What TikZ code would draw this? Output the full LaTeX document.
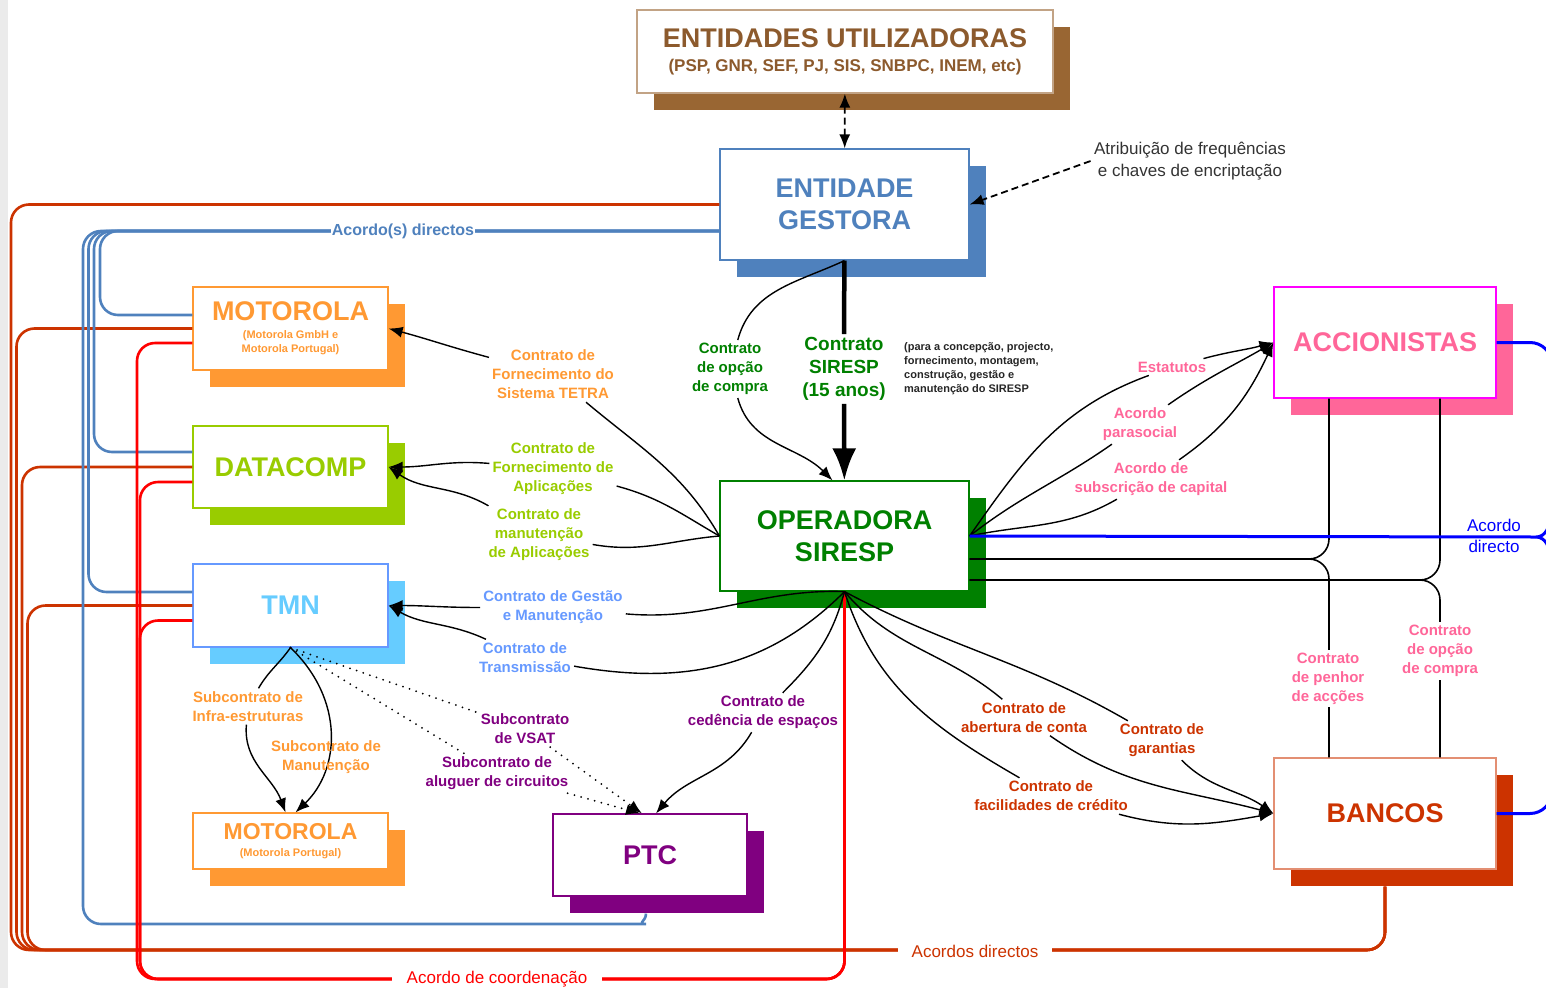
\documentclass[tikz,border=0pt]{standalone}
\usepackage{fontspec}
\setmainfont{Liberation Sans}
\usepackage{tikz}
\usetikzlibrary{arrows.meta,shadows}

\definecolor{brn}{RGB}{153,102,51}
\definecolor{brntxt}{RGB}{140,90,45}
\definecolor{gblue}{RGB}{79,129,189}
\definecolor{morange}{RGB}{255,153,51}
\definecolor{dgreen}{RGB}{153,204,0}
\definecolor{tsky}{RGB}{102,204,255}
\definecolor{tblue}{RGB}{102,153,255}
\definecolor{ppurple}{RGB}{128,0,128}
\definecolor{ogreen}{RGB}{0,128,0}
\definecolor{apink}{RGB}{255,102,153}
\definecolor{amag}{RGB}{255,0,255}
\definecolor{bred}{RGB}{204,51,0}

\begin{document}
\begin{tikzpicture}[x=1pt, y=1pt,
  sbox/.style={fill=white, line width=1.2pt, inner sep=0pt, align=center,
    general shadow={fill=#1, shadow xshift=17pt, shadow yshift=-17pt}},
  ttl/.style={font=\fontsize{27}{32}\selectfont\bfseries},
  lbl/.style={font=\fontsize{15}{19}\selectfont\bfseries, align=center, inner sep=3pt},
  arr/.style={line width=1.4pt, -{Latex[length=14pt,width=11pt]}},
  dotarr/.style={line width=2pt, line cap=round, dash pattern=on 0pt off 7pt, -{Latex[length=14pt,width=11pt]}},
  dasharr/.style={line width=1.8pt, dash pattern=on 7pt off 4pt},
  blk/.style={line width=1.6pt, rounded corners=20pt},
  acd/.style={draw=bred, line width=2.6pt, rounded corners=18pt},
  adb/.style={draw=gblue, line width=2.6pt, rounded corners=18pt},
  aco/.style={draw=red, line width=2.6pt, rounded corners=18pt},
  bdir/.style={draw=blue, line width=3pt}]

  \useasboundingbox (0,0) rectangle (1546,-988);
  \fill[black!8] (0,0) rectangle (8,-988);

  \node[sbox=brn, draw=brn!60, text=brntxt, minimum width=416pt, minimum height=83pt, font=\fontsize{17}{24}\selectfont\bfseries] (eu) at (845,-51.5)
    {{\fontsize{27}{32}\selectfont ENTIDADES UTILIZADORAS}\\(PSP, GNR, SEF, PJ, SIS, SNBPC, INEM, etc)};
  \node[sbox=gblue, draw=gblue, text=gblue, minimum width=249pt, minimum height=111pt, ttl] (eg) at (844.5,-204.5) {ENTIDADE\\GESTORA};
  \node[sbox=ogreen, draw=ogreen, text=ogreen, minimum width=249pt, minimum height=110pt, ttl] (op) at (844.5,-536) {OPERADORA\\SIRESP};
  \node[sbox=morange, draw=morange, text=morange, minimum width=195pt, minimum height=83pt, font=\fontsize{11}{14}\selectfont\bfseries] (mot) at (290.5,-328.5)
    {{\fontsize{27}{32}\selectfont MOTOROLA}\\[4pt](Motorola GmbH e\\Motorola Portugal)};
  \node[sbox=dgreen, draw=dgreen, text=dgreen, minimum width=195pt, minimum height=82pt, ttl] (dat) at (290.5,-467) {DATACOMP};
  \node[sbox=tsky, draw=tblue, text=tsky, minimum width=195pt, minimum height=83pt, ttl] (tmn) at (290.5,-605.5) {TMN};
  \node[sbox=morange, draw=morange, text=morange, minimum width=195pt, minimum height=56pt, font=\fontsize{11}{14}\selectfont\bfseries] (motb) at (290.5,-841)
    {{\fontsize{23}{28}\selectfont MOTOROLA}\\[3pt](Motorola Portugal)};
  \node[sbox=ppurple, draw=ppurple, text=ppurple, minimum width=194pt, minimum height=82pt, ttl] (ptc) at (650,-855) {PTC};
  \node[sbox=apink, draw=amag, text=apink, minimum width=222pt, minimum height=111pt, ttl] (acc) at (1385,-342.5) {ACCIONISTAS};
  \node[sbox=bred, draw=bred!55, text=bred, minimum width=222pt, minimum height=111pt, ttl] (ban) at (1385,-813.5) {BANCOS};

  \node[align=center, font=\fontsize{17}{22}\selectfont, text=black!80] (atr) at (1190,-161) {Atribuição de frequências\\e chaves de encriptação};
  \node[lbl, text=ogreen, font=\fontsize{19}{23}\selectfont\bfseries] (sir) at (844,-369) {Contrato\\SIRESP\\(15 anos)};
  \node[lbl, text=ogreen] (opc) at (730,-369) {Contrato\\de opção\\de compra};
  \node[anchor=west, align=left, inner sep=0pt, font=\fontsize{11}{14}\selectfont\bfseries, text=black!85] (note) at (904,-369)
    {(para a concepção, projecto,\\fornecimento, montagem,\\construção, gestão e\\manutenção do SIRESP};
  \node[lbl, text=morange] (tetra) at (553,-374.5) {Contrato de\\Fornecimento do\\Sistema TETRA};
  \node[lbl, text=dgreen] (fapl) at (553,-469) {Contrato de\\Fornecimento de\\Aplicações};
  \node[lbl, text=dgreen] (mapl) at (539,-535) {Contrato de\\manutenção\\de Aplicações};
  \node[lbl, text=tblue] (gest) at (553,-607.5) {Contrato de Gestão\\e Manutenção};
  \node[lbl, text=tblue] (trans) at (525,-657.5) {Contrato de\\Transmissão};
  \node[lbl, text=ppurple] (ced) at (763,-712.5) {Contrato de\\cedência de espaços};
  \node[lbl, text=ppurple] (vsat) at (525,-729) {Subcontrato\\de VSAT};
  \node[lbl, text=ppurple] (alug) at (497,-773.5) {Subcontrato de\\aluguer de circuitos};
  \node[lbl, text=morange] (infra) at (248,-706.5) {Subcontrato de\\Infra-estruturas};
  \node[lbl, text=apink] (estat) at (1172,-367) {Estatutos};
  \node[lbl, text=apink] (paras) at (1140,-424.5) {Acordo\\parasocial};
  \node[lbl, text=apink] (subsc) at (1151,-479.5) {Acordo de\\subscrição de capital};
  \node[lbl, text=bred] (abert) at (1024,-717.5) {Contrato de\\abertura de conta};
  \node[lbl, text=bred] (garant) at (1162,-740.5) {Contrato de\\garantias};
  \node[lbl, text=bred] (facil) at (1051,-796) {Contrato de\\facilidades de crédito};

  \coordinate (bx) at (1536,-537);

  \draw[acd] (eg.west) -| (11,-950) -| ([yshift=-17pt]ban.south);
  \draw[acd] (mot.west) -| (16.5,-950) -| ([yshift=-17pt]ban.south);
  \draw[acd] (dat.west) -| (22,-950) -| ([yshift=-17pt]ban.south);
  \draw[acd] (tmn.west) -| (27.5,-950) -| ([yshift=-17pt]ban.south);

  \draw[adb] ([yshift=-26.5pt]eg.west) -| (100,-315) -- ([yshift=13.5pt]mot.west);
  \draw[adb] ([yshift=-26.5pt]eg.west) -| (94,-452) -- ([yshift=15pt]dat.west);
  \draw[adb] ([yshift=-26.5pt]eg.west) -| (88.5,-592) -- ([yshift=13.5pt]tmn.west);
  \draw[adb] ([yshift=-26.5pt]eg.west) -| (83,-924) -- (628,-924) to[out=0,in=-90] ([xshift=-4pt,yshift=-17pt]ptc.south);

  \draw[aco] (op.south) |- (137,-979) |- ([yshift=-14.5pt]mot.west);
  \draw[aco] (op.south) |- (140,-979) |- ([yshift=-15pt]dat.west);
  \draw[aco] (op.south) |- (140,-979) |- ([yshift=-15pt]tmn.west);

  \draw[dasharr, {Latex[length=14pt,width=11pt]}-{Latex[length=14pt,width=11pt]}] (eu) -- (eg);
  \draw[dasharr, -{Latex[length=14pt,width=11pt]}] (atr.west) -- (eg.east);
  \draw[line width=4.5pt, -{Latex[length=32pt,width=24pt]}] (eg) -- (sir) -- (op);
  \draw[arr] (eg.south) to[out=205,in=75] (opc) to[out=-75,in=135] ([xshift=-12pt]op.north);

  \draw[arr] (op.west) to[out=120,in=-40] (tetra) to[out=165,in=-15] (mot.east);
  \draw[arr] (op.west) to[out=150,in=-15] (fapl) to[out=175,in=0] (dat.east);
  \draw[arr] (op.west) to[out=185,in=-10] (mapl) to[out=150,in=-35] (dat.east);
  \draw[arr] (op.south) to[out=178,in=-5] (gest) to[out=180,in=0] (tmn.east);
  \draw[arr] (op.south) to[out=-135,in=-10] (trans) to[out=155,in=-30] (tmn.east);
  \draw[arr] (op.south) to[out=-105,in=45] (ced) to[out=-120,in=50] ([xshift=6pt]ptc.north);

  \draw[dotarr] (tmn.south) -- (vsat) -- ([xshift=-8pt]ptc.north);
  \draw[dotarr] (tmn.south) -- (alug) -- ([xshift=-10pt]ptc.north);
  \draw[arr] (tmn.south) to[out=-125,in=60] (infra) to[out=-95,in=110] ([xshift=-5pt]motb.north);
  \draw[arr] (tmn.south) .. controls (345,-700) and (340,-770) .. ([xshift=5pt]motb.north);
  \node[lbl, text=morange] (smanut) at (326,-757) {Subcontrato de\\Manutenção};

  \draw[arr] (op.east) to[out=55,in=-160] (estat) to[out=15,in=195] (acc.west);
  \draw[arr] (op.east) to[out=38,in=-145] (paras) to[out=35,in=-150] (acc.west);
  \draw[arr] (op.east) to[out=12,in=-150] (subsc) to[out=35,in=-115] (acc.west);

  \draw[arr] (op.south) to[out=-50,in=140] (abert) to[out=-35,in=165] (ban.west);
  \draw[arr] (op.south) to[out=-28,in=150] (garant) to[out=-45,in=145] (ban.west);
  \draw[arr] (op.south) to[out=-72,in=150] (facil) to[out=-15,in=190] (ban.west);

  \draw[blk] ([xshift=-56pt]acc.south) |- ([yshift=-23pt]op.east);
  \draw[blk] ([yshift=-23pt]op.east) -| ([xshift=-56pt]ban.north);
  \draw[blk] ([xshift=55pt]acc.south) |- ([yshift=-44pt]op.east);
  \draw[blk] ([yshift=-44pt]op.east) -| ([xshift=55pt]ban.north);

  \draw[bdir] (op.east) -- (bx);
  \draw[bdir] (bx) to[out=0,in=-90] ++(14,20) (bx) to[out=0,in=90] ++(14,-20);
  \draw[bdir, rounded corners=22pt] (acc.east) -| (1552,-380);
  \draw[bdir, rounded corners=22pt] (ban.east) -| (1552,-775);

  \node[align=center, font=\fontsize{17}{21}\selectfont, text=blue] (adir) at (1494,-536) {Acordo\\directo};
  \node[lbl, fill=white, text=apink] (penhor) at (1328,-678.5) {Contrato\\de penhor\\de acções};
  \node[lbl, fill=white, text=apink] (opcb) at (1440,-651) {Contrato\\de opção\\de compra};
  \node[fill=white, text=gblue, font=\fontsize{16}{19}\selectfont\bfseries, inner sep=1pt] (adl) at (403,-231) {Acordo(s) directos};
  \node[fill=white, text=bred, font=\fontsize{17}{20}\selectfont, inner xsep=14pt] (adsl) at (975,-951) {Acordos directos};
  \node[fill=white, text=red, font=\fontsize{17}{20}\selectfont, inner xsep=15pt] (acl) at (497,-979) {Acordo de coordenação};
\end{tikzpicture}
\end{document}
